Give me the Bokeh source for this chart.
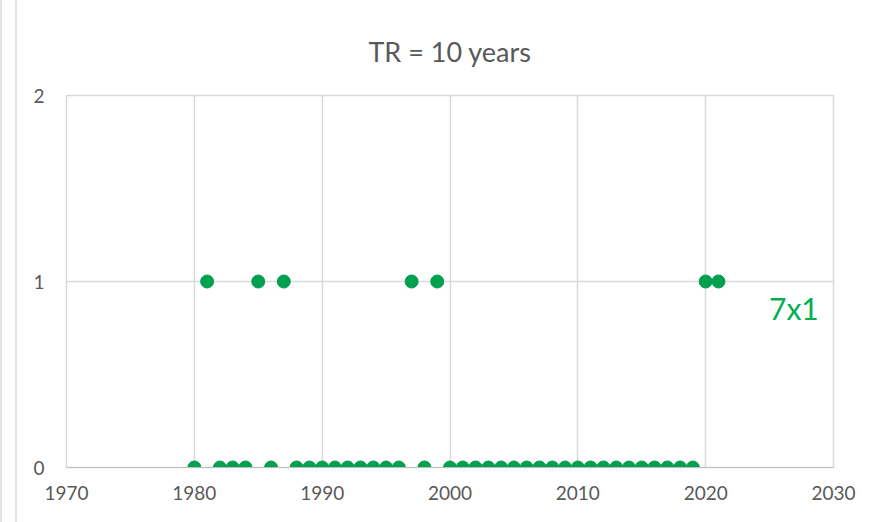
from bokeh.plotting import figure
from bokeh.models import Range1d, Label, FixedTicker, ColumnDataSource, Spacer
from bokeh.layouts import row
from bokeh.embed import file_html
from bokeh.resources import INLINE

years = [1980, 1981, 1982, 1983, 1984, 1985, 1986, 1987, 1988, 1989,
         1990, 1991, 1992, 1993, 1994, 1995, 1996, 1997, 1998, 1999,
         2000, 2001, 2002, 2003, 2004, 2005, 2006, 2007, 2008, 2009,
         2010, 2011, 2012, 2013, 2014, 2015, 2016, 2017, 2018, 2019,
         2020, 2021]
counts = [0, 1, 0, 0, 0, 1, 0, 1, 0, 0,
          0, 0, 0, 0, 0, 0, 0, 1, 0, 1,
          0, 0, 0, 0, 0, 0, 0, 0, 0, 0,
          0, 0, 0, 0, 0, 0, 0, 0, 0, 0,
          1, 1]
x_ticks = [1970, 1980, 1990, 2000, 2010, 2020, 2030]
y_ticks = [0, 1, 2]
title_text = "TR = 10 years"
note_text = "7x1"

FONT = "Lato"
GRID = "#d9d9d9"
TXT = "#595959"

p = figure(width=864, height=522, output_backend="svg", toolbar_location=None,
           x_range=Range1d(1970, 2030), y_range=Range1d(0, 2),
           min_border_left=49, min_border_right=48, min_border_top=95,
           min_border_bottom=55, title=title_text)
p.title.align = "center"
p.title.text_font = FONT
p.title.text_font_size = "27px"
p.title.text_font_style = "normal"
p.title.text_color = TXT
p.title.standoff = 56
p.outline_line_color = GRID
p.outline_line_width = 1.5
p.background_fill_color = "white"
p.border_fill_color = "white"

p.xaxis.ticker = FixedTicker(ticks=x_ticks)
p.yaxis.ticker = FixedTicker(ticks=y_ticks)
for ax in (p.xaxis, p.yaxis):
    ax.major_tick_line_color = None
    ax.minor_tick_line_color = None
    ax.major_label_text_font = FONT
    ax.major_label_text_font_size = "19px"
    ax.major_label_text_color = TXT
p.xaxis.axis_line_color = "#bfbfbf"
p.yaxis.axis_line_color = GRID
p.xaxis.major_label_standoff = 12
p.yaxis.major_label_standoff = 16

p.xgrid.ticker = FixedTicker(ticks=x_ticks)
p.ygrid.ticker = FixedTicker(ticks=y_ticks)
p.xgrid.grid_line_color = GRID
p.ygrid.grid_line_color = GRID
p.xgrid.grid_line_width = 1.5
p.ygrid.grid_line_width = 1.5

src = ColumnDataSource(dict(x=years, y=counts))
p.scatter("x", "y", source=src, size=13, fill_color="#00A04E",
          line_color="#00A04E")

p.add_layout(Label(x=2026.9, y=0.855, text=note_text, text_align="center",
                   text_baseline="middle", text_font=FONT,
                   text_font_size="30px", text_color="#00B050"))

left = Spacer(width=17, height=522,
              styles={"border-left": "2px solid #e3e3e3",
                      "border-right": "2px solid #e3e3e3",
                      "box-sizing": "border-box"})
layout = row(left, p)
open("out.html", "w").write(file_html(layout, INLINE))
